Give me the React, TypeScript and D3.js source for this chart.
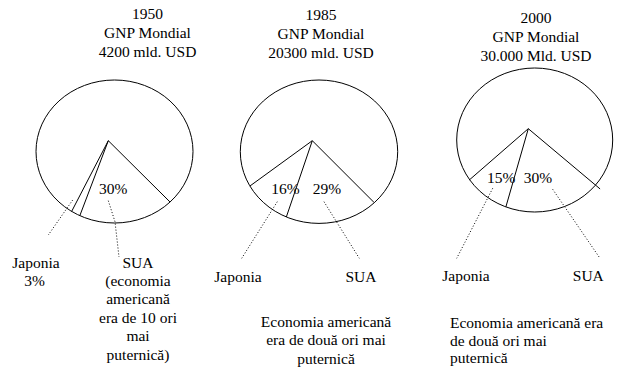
import React from "react";
import * as d3 from "d3";

// ---- data ----
const years = ["1950", "1985", "2000"];
const worldGnp = ["4200 mld. USD", "20300 mld. USD", "30.000 Mld. USD"];
const usaShare = [30, 29, 30];
const japanShare = [3, 16, 15];
const countryNames = ["SUA", "Japonia"];
const note1950 = ["(economia", "americană", "era de 10 ori", "mai", "puternică)"];
const note1985 = ["Economia americană", "era de două ori mai", "puternică"];
const note2000 = ["Economia americană era", "de două ori mai", "puternică"];

// ---- layout (positions only) ----
const W = 626;
const H = 382;
const TS: React.CSSProperties = { fontFamily: "Liberation Serif", fontSize: 15.5 };

type Layout = {
  cx: number; cy: number; rx: number; ry: number;
  ax: number; ay: number; startDeg: number; overshoot: number;
  titleX: number; titleY: number;
  usaPct: [number, number]; japPct: [number, number] | null;
  japLeader: [number, number][]; usaLeader: [number, number][];
  japLabel: [number, number]; usaLabel: [number, number];
};

const layouts: Layout[] = [
  {
    cx: 114.5, cy: 151.5, rx: 78.5, ry: 71.5, ax: 108.3, ay: 140.7, startDeg: -45.2, overshoot: 0,
    titleX: 147.5, titleY: 19,
    usaPct: [113.3, 194.3], japPct: null,
    japLeader: [[72.7, 200], [48.3, 235]],
    usaLeader: [[108.3, 200.7], [115, 221.7], [119, 257]],
    japLabel: [36, 267.5], usaLabel: [138, 267.5],
  },
  {
    cx: 319, cy: 151.7, rx: 78.7, ry: 71.7, ax: 312.3, ay: 140.7, startDeg: -45, overshoot: 0,
    titleX: 321, titleY: 19.5,
    usaPct: [327, 194], japPct: [285.5, 194],
    japLeader: [[277.3, 201.7], [241.7, 258.3]],
    usaLeader: [[324, 201.7], [359.3, 258.3]],
    japLabel: [238, 281.5], usaLabel: [361, 281.5],
  },
  {
    cx: 534.7, cy: 140, rx: 78, ry: 72, ax: 528.3, ay: 128.7, startDeg: -50, overshoot: 6,
    titleX: 536, titleY: 22.5,
    usaPct: [538, 183], japPct: [501.3, 183],
    japLeader: [[492.7, 188.3], [456.7, 258.3]],
    usaLeader: [[552.7, 189.3], [600, 258.3]],
    japLabel: [466, 280.5], usaLabel: [588.3, 280.5],
  },
];

// share (%) -> drawn sweep angle
const sweep = d3.scaleLinear().domain([0, 100]).range([0, (220 * Math.PI) / 180]);

function rayToEllipse(L: Layout, a: number, extra: number): [number, number] {
  // d3 angle: 0 at top, clockwise
  const ux = Math.sin(a);
  const uy = -Math.cos(a);
  const px = L.ax - L.cx;
  const py = L.ay - L.cy;
  const A = (ux * ux) / (L.rx * L.rx) + (uy * uy) / (L.ry * L.ry);
  const B = 2 * ((px * ux) / (L.rx * L.rx) + (py * uy) / (L.ry * L.ry));
  const C = (px * px) / (L.rx * L.rx) + (py * py) / (L.ry * L.ry) - 1;
  const t = (-B + Math.sqrt(B * B - 4 * A * C)) / (2 * A) + extra;
  return [L.ax + ux * t, L.ay + uy * t];
}

const line = d3.line<[number, number]>();

function T({ x, y, anchor = "middle", children }: { x: number; y: number; anchor?: string; children: React.ReactNode }) {
  return (
    <text x={x} y={y} textAnchor={anchor as any} style={TS}>{children}</text>
  );
}

function Chart({ i }: { i: number }) {
  const L = layouts[i];
  const start = ((180 + L.startDeg) * Math.PI) / 180;
  const values = [usaShare[i], japanShare[i], 100 - usaShare[i] - japanShare[i]];
  const arcs = d3
    .pie<number>()
    .sort(null)
    .value((d) => d)
    .startAngle(start)
    .endAngle(start + sweep(100))(values);
  const boundaries = [arcs[0].startAngle, arcs[0].endAngle, arcs[1].endAngle];
  const title = [years[i], "GNP Mondial", worldGnp[i]];
  return (
    <g>
      {title.map((t, k) => (
        <T key={k} x={L.titleX} y={L.titleY + k * 19}>{t}</T>
      ))}
      <ellipse cx={L.cx} cy={L.cy} rx={L.rx} ry={L.ry} fill="none" stroke="#000" strokeWidth={1} />
      {boundaries.map((a, k) => {
        const [x, y] = rayToEllipse(L, a, k === 0 ? L.overshoot : 0);
        return <line key={k} x1={L.ax} y1={L.ay} x2={x} y2={y} stroke="#000" strokeWidth={1} />;
      })}
      <T x={L.usaPct[0]} y={L.usaPct[1]}>{`${usaShare[i]}%`}</T>
      {L.japPct && <T x={L.japPct[0]} y={L.japPct[1]}>{`${japanShare[i]}%`}</T>}
      <path d={line(L.japLeader) || ""} fill="none" stroke="#000" strokeWidth={1} strokeDasharray="1 2" />
      <path d={line(L.usaLeader) || ""} fill="none" stroke="#000" strokeWidth={1} strokeDasharray="1 2" />
      <T x={L.japLabel[0]} y={L.japLabel[1]}>{countryNames[1]}</T>
      <T x={L.usaLabel[0]} y={L.usaLabel[1]}>{countryNames[0]}</T>
    </g>
  );
}

export default function App() {
  return (
    <svg width={W} height={H} style={{ position: "absolute", left: 0, top: 0 }}>
      <rect x={0} y={0} width={W} height={H} fill="#fff" />
      <Chart i={0} />
      <Chart i={1} />
      <Chart i={2} />
      <T x={34.5} y={286}>{`${japanShare[0]}%`}</T>
      {note1950.map((t, k) => (
        <T key={k} x={138} y={286 + k * 18.4}>{t}</T>
      ))}
      {note1985.map((t, k) => (
        <T key={k} x={326} y={327 + k * 18.4}>{t}</T>
      ))}
      {note2000.map((t, k) => (
        <T key={k} x={450} y={328 + k * 17.6} anchor="start">{t}</T>
      ))}
    </svg>
  );
}
